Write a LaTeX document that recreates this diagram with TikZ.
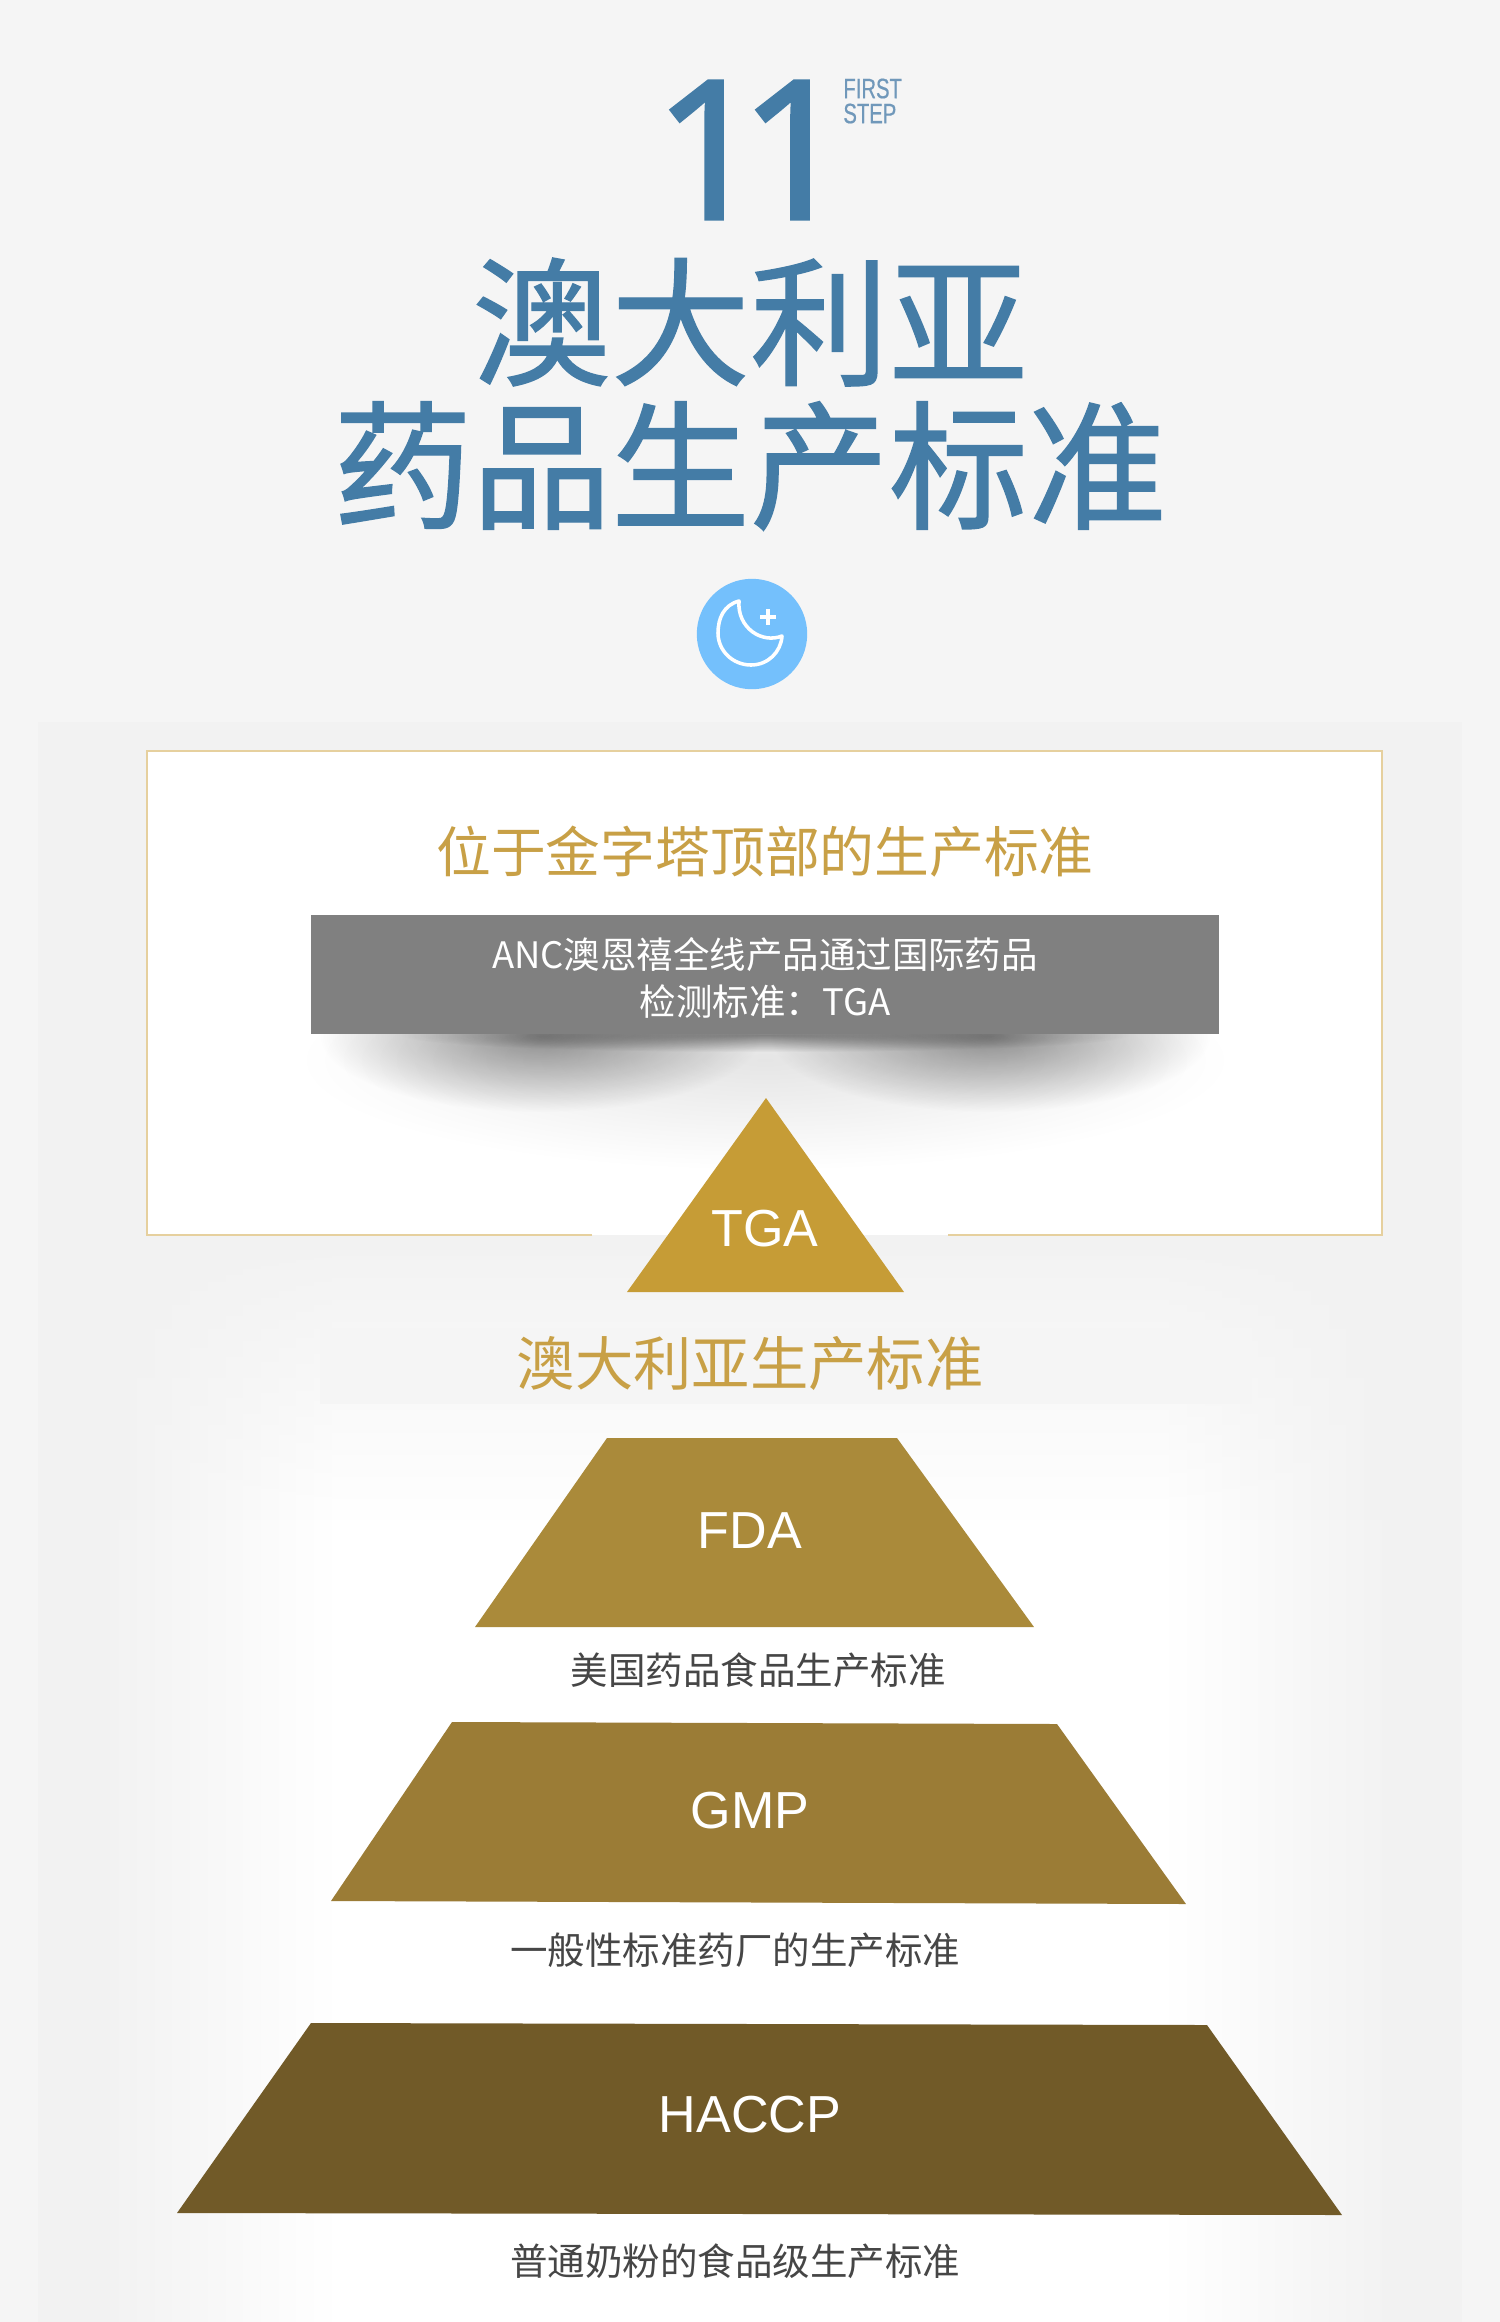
\documentclass[tikz,border=0pt]{standalone}
\usepackage{fontspec}
\setmainfont{Liberation Sans}
\newfontfamily\cjk{Noto Sans CJK SC}
\newfontfamily\cjkheavy[FakeBold=1]{Noto Sans CJK SC}
\newfontfamily\digitfont[FakeBold=1.5]{Noto Sans}
\newfontfamily\narrowsans[FakeStretch=0.72,FakeBold=0.5]{Liberation Sans}
\usetikzlibrary{calc,fadings,positioning}
\definecolor{PageGray}{RGB}{245,245,245}
\definecolor{PanelGray}{RGB}{242,242,242}
\definecolor{TitleBlue}{RGB}{68,124,166}
\definecolor{StepBlue}{RGB}{112,152,186}
\definecolor{MoonBlue}{RGB}{116,192,252}
\definecolor{FrameGold}{RGB}{230,208,158}
\definecolor{TextGold}{RGB}{200,160,70}
\definecolor{BarGray}{RGB}{128,128,128}
\definecolor{TgaGold}{RGB}{198,156,54}
\definecolor{FdaGold}{RGB}{170,138,58}
\definecolor{GmpGold}{RGB}{155,124,54}
\definecolor{HaccpGold}{RGB}{113,90,40}
\definecolor{NoteGray}{RGB}{70,70,70}
\tikzfading[name=softblob,inner color=transparent!0,outer color=transparent!100]
\tikzset{
  x=0.48pt,y=-0.48pt,
  bigtitle/.style={font=\cjkheavy\fontsize{66.7}{66.7}\selectfont,text=TitleBlue,inner sep=0pt},
  goldhead/.style={font=\cjk\fontsize{28}{28}\selectfont,text=TextGold,inner sep=0pt},
  levelname/.style={font=\fontsize{25}{25}\selectfont,text=white,inner sep=0pt},
  levelnote/.style={font=\cjk\fontsize{18}{18}\selectfont,text=NoteGray,inner sep=0pt},
  barnote/.style={font=\cjk\fontsize{17.5}{22.7}\selectfont,text=white,align=center,inner sep=0pt},
  goldframe/.style={draw=FrameGold,line width=1.15pt},
  softshadow/.style={fill=black,path fading=softblob}
}
\begin{document}
\begin{tikzpicture}
\useasboundingbox (0,0) rectangle (1500,2322);
\fill[PageGray] (0,0) rectangle (1500,2322);
% panel behind the pyramid
\fill[PanelGray] (38,722) rectangle (1462,2322);
\shade[left color=PanelGray,right color=white] (110,1234) rectangle (340,2322);
\fill[white] (339,1234) rectangle (1161,2322);
\shade[left color=white,right color=PanelGray] (1160,1234) rectangle (1390,2322);
\fill[PanelGray,path fading=south] (38,1234) rectangle (1462,1520);
\fill[white] (147,751) rectangle (1382,1235);
\fill[PageGray] (320,1328) rectangle (1252,1404);
% heading
\node[font=\digitfont\fontsize{93}{93}\selectfont,text=TitleBlue,inner sep=0pt] (num) at (745.75,150) {1\kern-12pt 1\kern-6pt};
\node[font=\narrowsans\fontsize{13.5}{12}\selectfont,text=StepBlue,align=left,inner sep=0pt,anchor=west] (first) at (843,101) {FIRST\\STEP};
\node[bigtitle] (titleA) at (750,322) {澳大利亚};
\node[bigtitle] (titleB) at (750,466) {药品生产标准};
% moon icon
\node[circle,fill=MoonBlue,minimum size=53pt,inner sep=0pt] (moon) at (752,634) {};
\draw[white,line width=1.7pt,line join=round] (739,601) .. controls (724,605) and (718,618) .. (718,633) .. controls (718,651) and (733,665) .. (751,665) .. controls (768,665) and (781,652) .. (782,636) .. controls (762,644) and (737,628) .. (739,601) -- cycle;
\draw[white,line width=1.7pt] (768,609) -- (768,625) (760,617) -- (776,617);
% top frame
\coordinate (frameL) at (592,1235);
\coordinate (frameR) at (948,1235);
\draw[goldframe] (frameL) -- (147,1235) -- (147,751) -- (1382,751) -- (1382,1235) -- (frameR);
\node[goldhead,font=\cjk\fontsize{26.3}{26.3}\selectfont] (tophead) at (765,852) {位于金字塔顶部的生产标准};
% shadow under the grey bar
\fill[softshadow,opacity=0.42] (320,960) rectangle (760,1112);
\fill[softshadow,opacity=0.42] (770,960) rectangle (1210,1112);
\fill[softshadow,opacity=0.45] (400,1018) rectangle (1130,1052);
\fill[softshadow,opacity=0.1] (300,950) rectangle (1230,1170);
\node[fill=BarGray,minimum width=436pt,minimum height=57pt,inner sep=0pt] (bar) at (765,974.5) {};
\node[barnote] (barnote) at (765,978) {ANC澳恩禧全线产品通过国际药品\\检测标准：TGA};
% levels
\fill[TgaGold] (766,1098) -- (904,1292) -- (627,1292) -- cycle;
\node[levelname] (tga) at (765,1229) {TGA};
\node[goldhead] (midhead) at (750,1363) {澳大利亚生产标准};
\fill[FdaGold] (607,1438) -- (897,1438) -- (1034,1627) -- (475,1627) -- cycle;
\node[levelname] (fda) at (750,1531) {FDA};
\node[levelnote] (fdanote) at (758,1670) {美国药品食品生产标准};
\fill[GmpGold] (452,1722) -- (1057,1724) -- (1186,1904) -- (331,1901) -- cycle;
\node[levelname] (gmp) at (750,1811) {GMP};
\node[levelnote] (gmpnote) at (735,1950) {一般性标准药厂的生产标准};
\fill[HaccpGold] (311,2023) -- (1207,2025) -- (1342,2215) -- (177,2213) -- cycle;
\node[levelname] (haccp) at (750,2115) {HACCP};
\node[levelnote] (haccpnote) at (735,2261) {普通奶粉的食品级生产标准};
\end{tikzpicture}
\end{document}
